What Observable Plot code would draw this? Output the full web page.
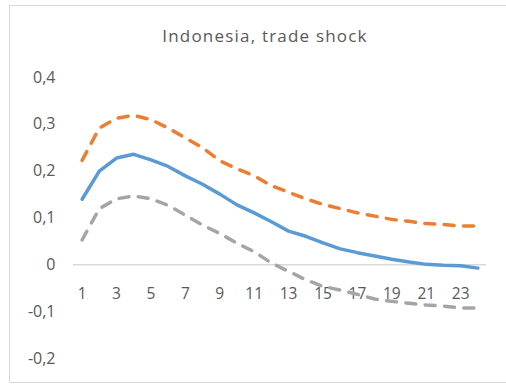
<!DOCTYPE html>
<html>
<head>
<meta charset="utf-8">
<script src="https://cdn.jsdelivr.net/npm/d3@7"></script>
<script src="https://cdn.jsdelivr.net/npm/@observablehq/plot@0.6"></script>
<style>
  html, body { margin: 0; padding: 0; background: #fff; }
  #wrap { position: relative; width: 506px; height: 385px; overflow: hidden; font-family: "Open Sans", sans-serif; }
  #border { position: absolute; left: 9px; top: 5px; width: 520px; height: 378px; border: 1px solid #d9d9d9; box-sizing: border-box; }
  #title { position: absolute; left: 0; top: 25px; width: 506px; text-align: center; font-size: 17px; line-height: 22px; color: #595959; letter-spacing: 1.2px; padding-left: 24px; box-sizing: border-box; }
  #chart { position: absolute; left: 0; top: 0; }
</style>
</head>
<body>
<div id="wrap">
  <div id="border"></div>
  <div id="title">Indonesia, trade shock</div>
  <div id="chart"></div>
</div>
<script>
const periods = d3.range(1, 25);
const upper = [0.223, 0.292, 0.313, 0.319, 0.31, 0.292, 0.271, 0.25, 0.222, 0.205, 0.19, 0.169, 0.155, 0.141, 0.129, 0.12, 0.111, 0.104, 0.097, 0.093, 0.088, 0.086, 0.083, 0.083];
const median = [0.14, 0.20, 0.228, 0.236, 0.224, 0.21, 0.19, 0.172, 0.151, 0.128, 0.111, 0.092, 0.072, 0.061, 0.047, 0.034, 0.026, 0.019, 0.012, 0.006, 0.001, -0.001, -0.002, -0.007];
const lower = [0.053, 0.12, 0.141, 0.147, 0.141, 0.127, 0.106, 0.085, 0.067, 0.046, 0.028, 0.004, -0.014, -0.032, -0.046, -0.054, -0.063, -0.073, -0.078, -0.082, -0.086, -0.088, -0.092, -0.092];
const xTickLabels = [1, 3, 5, 7, 9, 11, 13, 15, 17, 19, 21, 23];
const yTicks = [-0.2, -0.1, 0, 0.1, 0.2, 0.3, 0.4];

const toRows = (vals) => periods.map((p, i) => ({p, v: vals[i]}));
const fmt = d => d === 0 ? "0" : d.toFixed(1).replace(".", ",");

const chart = Plot.plot({
  width: 506,
  height: 385,
  marginLeft: 73,
  marginRight: 20,
  marginTop: 77,
  marginBottom: 27,
  style: {fontFamily: "'Open Sans', sans-serif", background: "transparent"},
  x: {domain: [0.5, 24.5], axis: null},
  y: {domain: [-0.2, 0.4], axis: null},
  marks: [
    Plot.ruleY([0], {stroke: "#d9d9d9", strokeWidth: 1.5}),
    Plot.axisY(yTicks, {tickSize: 0, tickPadding: 18, tickFormat: fmt, fontSize: 16, fill: "#595959", label: null}),
    Plot.text(xTickLabels, {x: d => d, y: 0, dy: 29, text: d => String(d), fontSize: 15.5, fill: "#595959"}),
    Plot.line(toRows(upper), {x: "p", y: "v", stroke: "#ED7D31", strokeWidth: 3.5, strokeDasharray: "10,9.4", strokeLinecap: "round"}),
    Plot.line(toRows(lower), {x: "p", y: "v", stroke: "#A5A5A5", strokeWidth: 3.5, strokeDasharray: "10,9.4", strokeLinecap: "round"}),
    Plot.line(toRows(median), {x: "p", y: "v", stroke: "#5B9BD5", strokeWidth: 3.5, strokeLinecap: "round"})
  ]
});
document.getElementById("chart").appendChild(chart);
</script>
</body>
</html>
